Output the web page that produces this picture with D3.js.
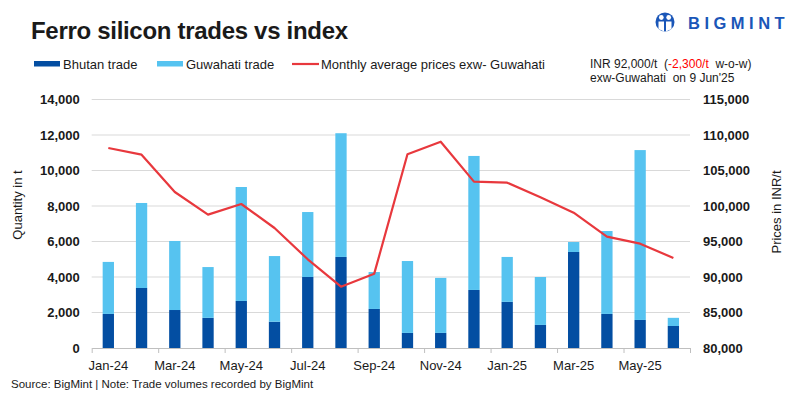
<!DOCTYPE html>
<html>
<head>
<meta charset="utf-8">
<script src="https://cdn.jsdelivr.net/npm/d3@7"></script>
<style>
  body { margin: 0; background: #fff; }
  svg text { font-family: "Liberation Sans", Arial, sans-serif; fill: #1a1a1a; }
</style>
</head>
<body>
<svg id="chart"></svg>
<script>
// data
let months = ['Jan-24','Feb-24','Mar-24','Apr-24','May-24','Jun-24','Jul-24','Aug-24','Sep-24',
  'Oct-24','Nov-24','Dec-24','Jan-25','Feb-25','Mar-25','Apr-25','May-25','Jun-25'];
let bhutan = [1920,3380,2140,1700,2650,1480,4000,5130,2200,850,850,3270,2600,1300,5410,1920,1580,1240];
let guwahati = [2930,4790,3890,2860,6420,3700,3660,6970,2080,4050,3100,7550,2530,2700,560,4670,9570,460];
let prices = [108170,107230,101970,98780,100280,96900,92490,88640,90470,
  107280,109060,103430,103290,101220,99060,95680,94690,92680];
let qtyTicks = [0,2000,4000,6000,8000,10000,12000,14000];
let priceTicks = [80000,85000,90000,95000,100000,105000,110000,115000];

let W = 800, H = 398;
let plotL = 91.7, plotR = 690, plotT = 99.5, plotB = 348;

let svg = d3.select('#chart').attr('width', W).attr('height', H);

let x = d3.scaleBand().domain(months).range([plotL, plotR]).paddingInner(0.66).paddingOuter(0.33);
let xi = d3.scaleLinear().domain([0, months.length]).range([plotL, plotR]);
let yL = d3.scaleLinear().domain([0, 14000]).range([plotB, plotT]);
let yR = d3.scaleLinear().domain([80000, 115000]).range([plotB, plotT]);

// gridlines
svg.append('g').selectAll('line').data(qtyTicks.slice(1)).join('line')
  .attr('x1', plotL).attr('x2', plotR)
  .attr('y1', d => yL(d)).attr('y2', d => yL(d))
  .attr('stroke', '#d9d9d9').attr('stroke-width', 1);

// stacked bars
let rows = months.map((m, i) => ({month: m, bhutan: bhutan[i], guwahati: guwahati[i]}));
let stack = d3.stack().keys(['bhutan', 'guwahati'])(rows);
let colors = {bhutan: '#034ea2', guwahati: '#56c3f0'};

svg.append('g').selectAll('g').data(stack).join('g')
  .attr('fill', d => colors[d.key])
  .selectAll('rect').data(d => d).join('rect')
  .attr('x', d => x(d.data.month))
  .attr('width', x.bandwidth())
  .attr('y', d => yL(d[1]))
  .attr('height', d => yL(d[0]) - yL(d[1]));

// price line
let line = d3.line()
  .x((d, i) => x(months[i]) + x.bandwidth() / 2)
  .y(d => yR(d));
svg.append('path').datum(prices)
  .attr('d', line)
  .attr('fill', 'none')
  .attr('stroke', '#e8383d')
  .attr('stroke-width', 2.2)
  .attr('stroke-linejoin', 'round');

// x axis: tick marks at every other boundary, labels under every other month
let xTicks = svg.append('g').attr('transform', `translate(0,${plotB})`)
  .call(d3.axisBottom(xi).tickValues(d3.range(0, months.length + 1, 2)).tickFormat('').tickSize(5).tickSizeOuter(0));
xTicks.selectAll('line, path').attr('stroke', '#bfbfbf');

let xLab = svg.append('g').attr('transform', `translate(0,${plotB})`)
  .call(d3.axisBottom(x).tickValues(months.filter((m, i) => i % 2 == 0)).tickSize(0).tickPadding(13));
xLab.select('.domain').remove();
xLab.selectAll('text').attr('font-size', 13).attr('fill', '#1a1a1a')
  .attr('font-family', '"Liberation Sans", Arial, sans-serif');

// left axis
let yAxL = svg.append('g').attr('transform', `translate(${plotL},0)`)
  .call(d3.axisLeft(yL).tickValues(qtyTicks).tickFormat(d3.format(',')).tickSize(0).tickPadding(12));
yAxL.select('.domain').remove();
yAxL.selectAll('text').attr('font-size', 13).attr('font-weight', 'bold').attr('fill', '#1a1a1a')
  .attr('font-family', '"Liberation Sans", Arial, sans-serif');

// right axis
let yAxR = svg.append('g').attr('transform', `translate(${plotR},0)`)
  .call(d3.axisRight(yR).tickValues(priceTicks).tickFormat(d3.format(',')).tickSize(0).tickPadding(13));
yAxR.select('.domain').remove();
yAxR.selectAll('text').attr('font-size', 13).attr('font-weight', 'bold').attr('fill', '#1a1a1a')
  .attr('font-family', '"Liberation Sans", Arial, sans-serif');

// axis titles
svg.append('text').attr('transform', 'translate(22,205) rotate(-90)')
  .attr('text-anchor', 'middle').attr('font-size', 13).text('Quantity in t');
svg.append('text').attr('transform', 'translate(781,212) rotate(-90)')
  .attr('text-anchor', 'middle').attr('font-size', 13).text('Prices in INR/t');

// title
svg.append('text').attr('x', 31).attr('y', 39)
  .attr('font-size', 24).attr('font-weight', 'bold').attr('letter-spacing', -0.3)
  .text('Ferro silicon trades vs index');

// legend
let legend = [
  {label: 'Bhutan trade', color: '#034ea2', x: 34, type: 'rect'},
  {label: 'Guwahati trade', color: '#56c3f0', x: 157, type: 'rect'},
  {label: 'Monthly average prices exw- Guwahati', color: '#e8383d', x: 292, type: 'line'}
];
let lg = svg.append('g').selectAll('g').data(legend).join('g');
lg.filter(d => d.type == 'rect').append('rect')
  .attr('x', d => d.x).attr('y', 61).attr('width', 26).attr('height', 5.5)
  .attr('fill', d => d.color);
lg.filter(d => d.type == 'line').append('line')
  .attr('x1', d => d.x).attr('x2', d => d.x + 27).attr('y1', 64).attr('y2', 64)
  .attr('stroke', d => d.color).attr('stroke-width', 2.2);
lg.append('text').attr('x', d => d.x + 29).attr('y', 69)
  .attr('font-size', 13).text(d => d.label);

// price note
let note = svg.append('text').attr('x', 590).attr('y', 68).attr('font-size', 12)
  .attr('xml:space', 'preserve');
note.append('tspan').text('INR 92,000/t  (');
note.append('tspan').style('fill', '#ff0000').text('-2,300/t');
note.append('tspan').text('  w-o-w)');
svg.append('text').attr('x', 590).attr('y', 81.5).attr('font-size', 12)
  .attr('xml:space', 'preserve').text('exw-Guwahati  on 9 Jun\'25');

// footer
svg.append('text').attr('x', 11).attr('y', 388).attr('font-size', 11.5)
  .text('Source: BigMint | Note: Trade volumes recorded by BigMint');

// logo
let logo = svg.append('g');
logo.append('circle').attr('cx', 665).attr('cy', 22).attr('r', 9.5).attr('fill', '#1a56b8');
logo.append('circle').attr('cx', 661.3).attr('cy', 17.5).attr('r', 2.4).attr('fill', '#fff');
logo.append('circle').attr('cx', 668.7).attr('cy', 17.5).attr('r', 2.4).attr('fill', '#fff');
logo.append('path').attr('d', 'M658.5,21.5 L664,21.5 L664,31.5 L658.5,29 Z M666,21.5 L671.5,21.5 L671.5,29 L666,31.5 Z').attr('fill', '#fff');
logo.append('text').attr('x', 688).attr('y', 28.5).attr('font-size', 16.5).attr('font-weight', 'bold')
  .attr('letter-spacing', 4.5).style('fill', '#1a56b8').text('BIGMINT');
</script>
</body>
</html>
